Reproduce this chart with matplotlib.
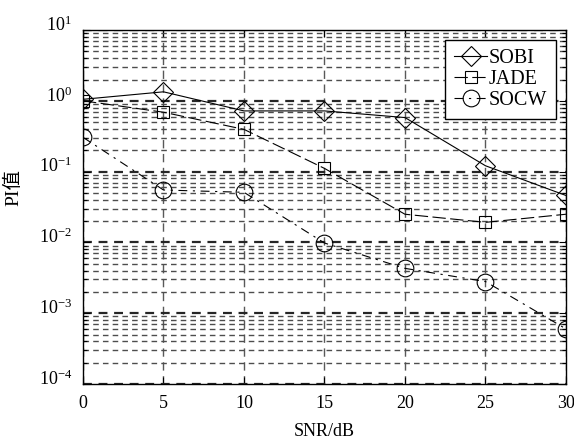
import numpy as np
import matplotlib
matplotlib.use("Agg")
import matplotlib.pyplot as plt
from matplotlib.ticker import LogLocator, NullFormatter, MultipleLocator
from matplotlib.transforms import ScaledTranslation

plt.rcParams['font.family'] = ['Liberation Serif', 'Noto Sans CJK SC']
plt.rcParams['mathtext.fontset'] = 'stix'

# SNR (dB) and PI values
snr = [0, 5, 10, 15, 20, 25, 30]
pi_sobi = [1.05, 1.34, 0.72, 0.72, 0.58, 0.121, 0.046]
pi_jade = [1.0, 0.69, 0.395, 0.111, 0.025, 0.0192, 0.025]
pi_socw = [0.305, 0.055, 0.051, 0.0098, 0.0043, 0.0028, 0.0006]

fig = plt.figure(figsize=(5.74, 4.46), dpi=100)
ax = fig.add_axes([0.1446, 0.139, 0.8414, 0.7937])

ax.semilogy(snr, pi_sobi, color='k', lw=0.8, ls='-', marker='D', ms=10,
            mfc='none', mec='k', mew=0.8, label='SOBI')
ax.semilogy(snr, pi_jade, color='k', lw=0.8, ls=(0, (12, 4)), marker='s', ms=9,
            mfc='none', mec='k', mew=0.8, label='JADE')
ax.semilogy(snr, pi_socw, color='k', lw=0.8, ls=(0, (8, 5, 2, 5)), marker='o', ms=12,
            mfc='none', mec='k', mew=0.8, label='SOCW')

ax.set_xlim(0, 30)
ax.set_ylim(1e-4, 1e1)
ax.xaxis.set_major_locator(MultipleLocator(5))
ax.yaxis.set_major_locator(LogLocator(base=10, numticks=10))
ax.yaxis.set_minor_locator(LogLocator(base=10, subs=np.arange(2, 10), numticks=10))
ax.yaxis.set_minor_formatter(NullFormatter())

ax.grid(True, which='major', axis='y', color='0.15', ls=(0, (4, 3)), lw=1.6)
ax.grid(True, which='minor', axis='y', color='0.3', ls=(0, (4, 3)), lw=1.0)
ax.grid(True, which='major', axis='x', color='0.35', ls=(0, (6, 4)), lw=1.0)

ax.tick_params(which='both', direction='in', top=True, right=True,
               labelsize=13, width=0.8, colors='k')
ax.tick_params(which='major', length=5, pad=8)
ax.tick_params(which='minor', length=3)
for s in ax.spines.values():
    s.set_linewidth(1.0)

# the y tick labels sit a little above their ticks in the original
for lab in ax.get_yticklabels():
    lab.set_transform(lab.get_transform() + ScaledTranslation(0, 0.07, fig.dpi_scale_trans))

ax.set_xlabel('SNR/dB', fontsize=13, labelpad=8)
ax.set_ylabel('PI值', fontsize=14)
ax.yaxis.set_label_coords(-0.126, 0.555)

leg = ax.legend(loc='upper right', fontsize=14.5, frameon=True, fancybox=False,
                edgecolor='k', framealpha=1, handlelength=1.65, handletextpad=0.05,
                borderpad=0.45, labelspacing=0.08, borderaxespad=0.5)
leg.get_frame().set_linewidth(1.0)

fig.savefig('out.png', dpi=100)
